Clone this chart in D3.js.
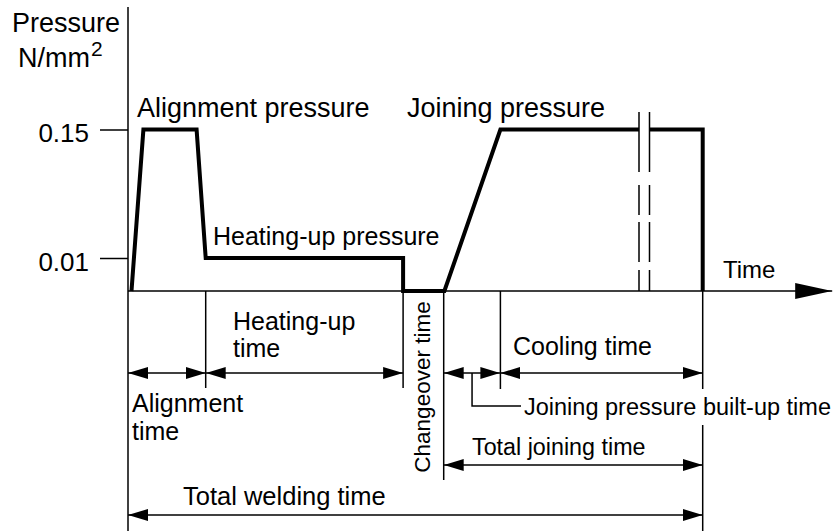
<!DOCTYPE html>
<html>
<head>
<meta charset="utf-8">
<script src="https://cdn.jsdelivr.net/npm/d3@7"></script>
<style>
  body { margin: 0; background: #fff; }
  svg text { font-family: "Liberation Sans", Arial, sans-serif; fill: #000; }
</style>
</head>
<body>
<script>
// pressure levels on the (schematic) y axis, N/mm2
const pressureTicks = [0.01, 0.15];
// pressure curve, time in arbitrary units (0..100), split at the axis break
const curveTime1 = [0.5, 2.2, 9.8, 11.1, 39.3, 39.3, 45.2, 53.2, 73.0];
const curvePress1 = [0, 0.15, 0.15, 0.01, 0.01, 0, 0, 0.15, 0.15];
const curveTime2 = [74.5, 82.1, 82.1];
const curvePress2 = [0.15, 0.15, 0];
const breakTimes = [73.0, 74.5];
// phase limits
const phaseNames = ["Alignment time", "Heating-up time", "Joining pressure built-up time", "Cooling time", "Total joining time", "Total welding time"];
const phaseStart = [0, 11.1, 45.1, 53.2, 45.1, 0];
const phaseEnd = [11.1, 39.3, 53.2, 82.1, 82.1, 82.1];
const phaseRow = [0, 0, 0, 0, 1, 2];

const w = 833, h = 531;

const x = d3.scaleLinear().domain([0, 100]).range([128, 828]);
// piecewise scale: the diagram is not to scale
const y = d3.scaleLinear().domain([0, 0.01, 0.15]).range([291, 258, 129.5]);
const rowY = [373, 465, 515];

const svg = d3.select("body").append("svg")
  .attr("width", w)
  .attr("height", h);

const defs = svg.append("defs");
defs.append("marker")
  .attr("id", "dim")
  .attr("markerUnits", "userSpaceOnUse")
  .attr("viewBox", "0 0 20 12")
  .attr("markerWidth", 20).attr("markerHeight", 12)
  .attr("refX", 20).attr("refY", 6)
  .attr("orient", "auto-start-reverse")
  .append("path").attr("d", "M0,0L20,6L0,12Z").attr("fill", "#000");
defs.append("marker")
  .attr("id", "axisArrow")
  .attr("markerUnits", "userSpaceOnUse")
  .attr("viewBox", "0 0 37 16")
  .attr("markerWidth", 37).attr("markerHeight", 16)
  .attr("refX", 37).attr("refY", 8)
  .attr("orient", "auto")
  .append("path").attr("d", "M0,0L37,8L0,16Z").attr("fill", "#000");

// y axis line (continues down as the start extension line)
svg.append("line")
  .attr("x1", x(0)).attr("x2", x(0))
  .attr("y1", 7).attr("y2", h)
  .attr("stroke", "#000").attr("stroke-width", 1.5);

const yAxis = d3.axisLeft(y)
  .tickValues(pressureTicks)
  .tickSize(28)
  .tickPadding(11)
  .tickFormat(d3.format(".2f"));
svg.append("g")
  .attr("transform", "translate(" + x(0) + ",0)")
  .call(yAxis)
  .call(g => g.select(".domain").remove())
  .call(g => g.selectAll("line").attr("stroke-width", 1.5))
  .call(g => g.selectAll("text")
    .attr("font-size", 26)
    .attr("dy", "0.48em")
    .style("font-family", "'Liberation Sans', Arial, sans-serif"));

// time axis with arrow
svg.append("line")
  .attr("x1", x(0)).attr("x2", x(100.6))
  .attr("y1", y(0)).attr("y2", y(0))
  .attr("stroke", "#000").attr("stroke-width", 1.5)
  .attr("marker-end", "url(#axisArrow)");

// break marks
svg.selectAll(".brk")
  .data(breakTimes)
  .enter()
  .append("line")
  .attr("class", "brk")
  .attr("x1", d => x(d)).attr("x2", d => x(d))
  .attr("y1", 112).attr("y2", y(0))
  .attr("stroke", "#000").attr("stroke-width", 1.5)
  .attr("stroke-dasharray", "60,13,30,7,40,8,30");

// pressure curve
const line = d3.line().x(d => x(d[0])).y(d => y(d[1]));
[[curveTime1, curvePress1], [curveTime2, curvePress2]].forEach(s => {
  svg.append("path")
    .datum(d3.zip(s[0], s[1]))
    .attr("d", line)
    .attr("fill", "none")
    .attr("stroke", "#000")
    .attr("stroke-width", 4)
    .attr("stroke-linejoin", "miter");
});

// extension lines below the time axis
const extLines = [
  [phaseStart[1], 388, null],
  [phaseEnd[1], 388, null],
  [phaseStart[2], 480, null],
  [phaseEnd[2], 389, null],
  [phaseEnd[5], h, [389, 425]]
];
extLines.forEach(e => {
  const segs = e[2] ? [[y(0), e[2][0]], [e[2][1], e[1]]] : [[y(0), e[1]]];
  segs.forEach(s => {
    svg.append("line")
      .attr("x1", x(e[0])).attr("x2", x(e[0]))
      .attr("y1", s[0]).attr("y2", s[1])
      .attr("stroke", "#000").attr("stroke-width", 1.5);
  });
});

// dimension lines
svg.selectAll(".dim")
  .data(phaseNames)
  .enter()
  .append("line")
  .attr("class", "dim")
  .attr("x1", (d, i) => x(phaseStart[i]))
  .attr("x2", (d, i) => x(phaseEnd[i]))
  .attr("y1", (d, i) => rowY[phaseRow[i]])
  .attr("y2", (d, i) => rowY[phaseRow[i]])
  .attr("stroke", "#000").attr("stroke-width", 1.5)
  .attr("marker-start", "url(#dim)")
  .attr("marker-end", "url(#dim)");

// leader for the built-up time
const bx = x((phaseStart[2] + phaseEnd[2]) / 2);
svg.append("path")
  .attr("d", "M" + bx + "," + rowY[0] + "V406H521")
  .attr("fill", "none").attr("stroke", "#000").attr("stroke-width", 1.5);

// texts
function label(txt, tx, ty, size) {
  return svg.append("text")
    .attr("x", tx).attr("y", ty)
    .attr("font-size", size)
    .text(txt);
}
label("Pressure", 12, 32, 27);
const unit = label("N/mm", 18, 67, 27);
unit.append("tspan").attr("font-size", 21).attr("dy", -11).attr("dx", 1).text("2");

label("Alignment pressure", 137, 117, 27);
label("Joining pressure", 407, 117, 27);
label("Heating-up pressure", 213, 245, 25);
label("Time", 723, 278, 24);

label("Heating-up", 233, 330, 25);
label("time", 233, 357, 25);
label("Alignment", 132, 412, 25);
label("time", 132, 440, 25);
label("Cooling time", 513, 355, 25);
label(phaseNames[2], 524, 415, 23.5);
label(phaseNames[4], 472, 455, 23.3);
label(phaseNames[5], 183, 505, 25.5);

svg.append("text")
  .attr("transform", "translate(430,387) rotate(-90)")
  .attr("text-anchor", "middle")
  .attr("font-size", 22.5)
  .text("Changeover time");
</script>
</body>
</html>
